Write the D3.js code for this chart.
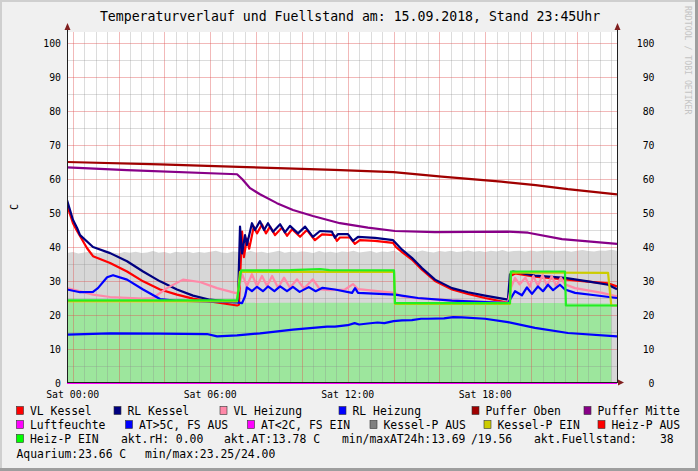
<!DOCTYPE html>
<html><head><meta charset="utf-8">
<script src="https://cdn.jsdelivr.net/npm/d3@7"></script>
<style>body{margin:0;background:#f0f0f0}svg{display:block}</style>
</head><body><svg id="c" width="698" height="471"></svg>
<script>
// ---------- DATA ----------
const title = "Temperaturverlauf und Fuellstand am: 15.09.2018, Stand 23:45Uhr";
const yTicks = [0,10,20,30,40,50,60,70,80,90,100];
const xTickHours = [0,6,12,18];
const xTickLabels = ["Sat 00:00","Sat 06:00","Sat 12:00","Sat 18:00"];
const timeRange = [-0.25, 23.75]; // hours relative to Sat 00:00

// series: [hour, value]
const vlKessel = [[-0.25,52.4],[0.01,47],[0.19,44.7],[0.62,39.7],[0.885,37.3],[1.63,35.3],[2.37,32.8],[3.07,29.9],[3.81,27.5],[4.55,26.0],[5.25,24.8],[5.99,24.0],[7.17,22.8],[7.25,23.0],[7.39,44.5],[7.47,37.0],[7.60,42.5],[7.70,39.5],[7.90,46.0],[8.04,44.0],[8.26,46.6],[8.43,44.0],[8.61,46.0],[8.83,43.5],[9.13,45.7],[9.35,43.3],[9.57,45.2],[9.92,43.0],[10.22,45.0],[10.57,42.0],[10.88,43.7],[11.40,43.5],[11.53,41.8],[11.66,42.8],[12.10,42.8],[12.31,40.9],[12.53,42.0],[13.19,41.8],[13.98,41.2],[14.10,40.0],[14.37,38.5],[14.80,36.3],[15.24,33.3],[15.81,30.0],[16.55,27.5],[17.25,26.2],[17.99,25.0],[18.86,23.8],[19.04,23.6],[19.12,31.5],[19.30,32.2],[20.17,31.3],[21.48,30.5],[22.48,29.8],[23.36,29.3],[23.75,28.4]];
const rlKessel = [[-0.25,53.8],[0.01,48],[0.19,45.6],[0.32,43.5],[0.885,40.0],[1.63,38.2],[2.37,35.8],[3.07,32.8],[3.81,29.9],[4.55,27.5],[5.25,25.7],[5.99,24.5],[7.08,23.8],[7.21,24.0],[7.30,46.0],[7.39,38.1],[7.52,43.5],[7.60,40.6],[7.82,47.0],[7.95,45.0],[8.17,47.6],[8.35,45.0],[8.52,47.0],[8.74,44.5],[9.05,46.7],[9.26,44.3],[9.48,46.2],[9.83,44.0],[10.14,46.0],[10.48,43.0],[10.79,44.7],[11.31,44.5],[11.44,42.7],[11.58,43.8],[12.01,43.8],[12.23,41.8],[12.45,43.0],[13.19,42.7],[13.98,42.0],[14.37,39.2],[14.80,36.8],[15.24,33.8],[15.81,30.4],[16.55,27.9],[17.25,26.7],[17.99,25.7],[18.99,24.5],[19.08,31.9],[19.21,32.8],[20.17,31.6],[21.48,30.9],[22.48,29.9],[23.36,28.9],[23.75,27.6]];
const vlHeizung = [[-0.25,27.9],[0.885,26.0],[1.63,25.3],[3.07,24.8],[3.5,25.0],[4.11,27.9],[4.81,30.4],[5.55,29.7],[6.3,27.9],[7.08,26.5],[7.21,26.6],[7.39,32.0],[7.60,28.5],[7.82,32.0],[8.04,28.5],[8.26,31.5],[8.48,28.5],[8.70,31.5],[8.96,28.0],[9.22,31.0],[9.48,28.0],[9.79,30.5],[10.09,27.8],[10.48,30.5],[10.79,27.5],[11.23,27.3],[11.88,27.5],[12.23,29.1],[12.45,27.6],[14.06,26.5],[14.37,25.5],[15.07,24.9],[16.55,24.3],[18.99,23.6],[19.12,28.0],[19.30,30.9],[19.5,29.0],[19.75,31.0],[19.95,28.3],[20.10,31.5],[20.30,28.5],[20.50,31.8],[20.70,28.5],[20.90,31.5],[21.10,28.5],[21.30,31.0],[21.48,29.0],[21.92,27.9],[23.10,26.5],[23.75,25.5]];
const rlHeizung = [[-0.25,27.5],[0.32,26.7],[0.885,26.8],[1.10,27.9],[1.50,31.1],[1.76,31.7],[2.37,30.4],[3.07,27.5],[3.81,24.7],[4.55,24.2],[5.99,23.9],[7.08,23.8],[7.39,23.5],[7.52,25.5],[7.60,28.1],[7.82,27.0],[8.04,28.3],[8.3,27.0],[8.52,28.4],[8.8,27.0],[9.05,28.4],[9.35,27.0],[9.61,28.3],[9.9,26.8],[10.3,28.2],[10.6,27.0],[10.9,28.0],[11.44,27.5],[12.19,26.5],[12.32,27.9],[12.45,26.5],[14.06,26.0],[15.07,25.0],[16.55,24.2],[18.99,23.5],[19.30,27.0],[19.60,25.8],[19.82,28.1],[20.04,26.2],[20.30,28.4],[20.52,27.0],[20.74,28.9],[20.96,27.3],[21.26,28.9],[21.48,27.5],[21.92,26.5],[22.79,25.8],[23.75,25.0]];
const pufferOben = [[-0.25,65.0],[3.8,64.3],[7.6,63.5],[11.4,62.7],[14.0,62.0],[16.1,60.7],[18.7,59.2],[20.2,58.2],[21.6,57.0],[23.75,55.5]];
const pufferMitte = [[-0.25,63.4],[2.37,62.6],[7.17,61.4],[7.39,60.0],[7.74,57.3],[8.17,55.5],[8.91,52.9],[9.61,50.9],[10.48,49.1],[11.66,47.0],[12.88,45.7],[14.06,44.7],[15.81,44.4],[18.99,44.5],[19.87,44.2],[21.35,42.3],[23.75,40.9]];
const luftfeuchte = [[-0.25,0],[23.75,0]];
const aussenTemp = [[-0.25,14.2],[1.63,14.6],[3.81,14.5],[5.86,14.4],[6.3,13.7],[7.17,14.0],[8.17,14.6],[9.61,15.7],[11.1,16.6],[11.44,16.6],[12.0,17.0],[12.3,17.6],[12.5,17.2],[12.88,17.5],[13.3,17.8],[13.6,17.6],[14.0,18.2],[14.37,18.4],[14.8,18.5],[15.2,18.9],[15.5,18.9],[16.2,19.0],[16.6,19.4],[16.99,19.3],[17.99,18.9],[18.99,17.9],[20.17,16.2],[21.61,14.7],[23.75,13.7]];
const kesselPEin = [[-0.25,24.0],[7.17,24.0],[7.30,32.7],[14.02,32.7],[14.06,23.3],[19.08,23.3],[19.12,32.5],[23.36,32.4],[23.50,22.8],[23.75,22.8]];
const heizPEin = [[-0.25,24.3],[7.17,24.3],[7.35,33.1],[9.5,33.2],[10.8,33.5],[11.2,33.2],[14.02,33.1],[14.06,23.5],[19.08,23.5],[19.12,32.8],[21.48,32.8],[21.52,22.8],[23.75,22.8]];
const aquarium = [[-0.25,23.6],[3,23.5],[6,23.5],[9,23.6],[12,23.6],[15,23.6],[18,23.5],[21,23.5],[23.5,23.4]];
const fuellStart = -0.25, fuellStep = 0.25;
const fuellstand = [38.2,38.5,38.1,38.4,38.6,38.2,38.3,38.7,38.4,38.1,
38.5,38.3,38.6,38.2,38.4,38.8,38.3,38.5,38.1,38.6,
38.4,38.7,38.2,38.5,38.3,38.6,38.9,38.4,38.2,38.7,
38.5,38.3,38.8,38.4,38.6,38.2,38.5,38.9,38.3,38.6,
38.4,38.7,38.5,38.2,38.8,38.4,38.6,38.3,38.7,38.5,
38.9,38.4,38.6,38.8,38.3,38.7,38.5,38.9,38.4,38.6,
38.8,38.5,39.0,38.6,38.4,38.8,38.6,38.9,38.5,38.7,
39.0,38.6,38.8,38.5,38.9,38.7,39.1,38.6,38.8,38.9,
38.6,39.0,38.7,38.9,39.1,38.7,38.8,39.0,38.6,38.9,
39.1,38.8,38.7,39.0,38.9,39.2,38.9];

const legendLabels = ["VL Kessel","RL Kessel","VL Heizung","RL Heizung","Puffer Oben","Puffer Mitte","Luftfeuchte","AT>5C, FS AUS","AT<2C, FS EIN","Kessel-P AUS","Kessel-P EIN","Heiz-P AUS","Heiz-P EIN"];
const legendColors = ["#ff0000","#000080","#ff88a8","#0000ff","#a00000","#880088","#ff00ff","#0000ff","#ff00ff","#808080","#cccc00","#ff0000","#00ff00"];
const infoTexts = ["akt.rH: 0.00","akt.AT:13.78 C","min/maxAT24h:13.69","/19.56","akt.Fuellstand:","38","Aquarium:23.66 C","min/max:23.25/24.00"];

// ---------- LAYOUT ----------
const W=698,H=471, L=67, R=617, T=32, B=383;
const legendX = [16.5,114,220,339,472,584, 16.5,125.5,247.5,370,484,598, 16.5];
const legendRow = [0,0,0,0,0,0,1,1,1,1,1,1,2];
const infoX = [121,224,342,471,534,660,16.5,145];
const infoRow = [2,2,2,2,2,2,3,3];
const rowBase = [415,429,443,457.5];
const mono = "DejaVu Sans Mono, monospace";

const svg = d3.select("#c");
const x = d3.scaleLinear().domain(timeRange).range([L,R]);
const y = d3.scaleLinear().domain([0,100]).range([B,43]);

// background + shading
svg.append("rect").attr("width",W).attr("height",H).attr("fill","#f0f0f0");
svg.append("rect").attr("x",0).attr("y",0).attr("width",W).attr("height",2).attr("fill","#cfcfcf");
svg.append("rect").attr("x",0).attr("y",0).attr("width",2).attr("height",H).attr("fill","#cfcfcf");
svg.append("rect").attr("x",W-3).attr("y",0).attr("width",3).attr("height",H).attr("fill","#9e9e9e");
svg.append("rect").attr("x",0).attr("y",H-3).attr("width",W).attr("height",3).attr("fill","#9e9e9e");
svg.append("rect").attr("x",L).attr("y",T).attr("width",R-L).attr("height",B-T).attr("fill","#ffffff");

const defs = svg.append("defs");
defs.append("clipPath").attr("id","clip").append("rect").attr("x",L).attr("y",T).attr("width",R-L).attr("height",B-T+2);
const plot = svg.append("g").attr("clip-path","url(#clip)");

// areas
const fuellData = fuellstand.map((v,i)=>[fuellStart+i*fuellStep, v]);
const area = d3.area().x(d=>x(d[0])).y0(y(0)).y1(d=>y(d[1]));
plot.append("path").datum(fuellData).attr("d",area).attr("fill","#d7d7d7");
plot.append("path").datum(aquarium).attr("d",area).attr("fill","#9de69d");

// grid
const minorX = d3.range(-0.0, 23.76, 0.5).filter(h=>h%2!==0);
const majorX = d3.range(0, 23.76, 2);
const g = svg.append("g");
minorX.forEach(h=>g.append("line").attr("x1",Math.round(x(h))+0.5).attr("x2",Math.round(x(h))+0.5).attr("y1",T).attr("y2",B).attr("stroke","rgba(140,140,140,0.3)"));
d3.range(5,103,10).forEach(v=>g.append("line").attr("x1",L).attr("x2",R).attr("y1",Math.round(y(v))+0.5).attr("y2",Math.round(y(v))+0.5).attr("stroke","rgba(140,140,140,0.3)"));
majorX.forEach(h=>g.append("line").attr("x1",Math.round(x(h))+0.5).attr("x2",Math.round(x(h))+0.5).attr("y1",T).attr("y2",B).attr("stroke","rgba(222,79,79,0.4)"));
yTicks.filter(v=>v>0).forEach(v=>g.append("line").attr("x1",L).attr("x2",R).attr("y1",Math.round(y(v))+0.5).attr("y2",Math.round(y(v))+0.5).attr("stroke","rgba(222,79,79,0.4)"));

// lines
const line = d3.line().x(d=>x(d[0])).y(d=>y(d[1]));
const lp = svg.append("g").attr("clip-path","url(#clip)");
const series = [
  [vlKessel,"#ff0000"],[rlKessel,"#000080"],[vlHeizung,"#ff88a8"],[rlHeizung,"#0000ff"],
  [pufferOben,"#a00000"],[pufferMitte,"#880088"],[luftfeuchte,"#ff00ff"],[aussenTemp,"#0000ff"],
  [kesselPEin,"#cccc00"],[heizPEin,"#22ee22"]
];
series.forEach(([d,c])=>lp.append("path").datum(d).attr("d",line).attr("fill","none").attr("stroke",c).attr("stroke-width",2.2).attr("stroke-linejoin","round"));

// axes
const axc = "#1f1f1f", arc = "#801f1f";
svg.append("line").attr("x1",L+0.5).attr("x2",L+0.5).attr("y1",B).attr("y2",T-4).attr("stroke",axc);
svg.append("line").attr("x1",R+0.5).attr("x2",R+0.5).attr("y1",B).attr("y2",T-4).attr("stroke",axc);
svg.append("line").attr("x1",L).attr("x2",R+4).attr("y1",B-0.5).attr("y2",B-0.5).attr("stroke",axc);
[L+0.5,R+0.5].forEach(px=>svg.append("path").attr("d",`M${px-3},${T-2}L${px},${T-9}L${px+3},${T-2}Z`).attr("fill",arc));
svg.append("path").attr("d",`M${R+1},${B-3.5}L${R+7},${B-0.5}L${R+1},${B+2.5}Z`).attr("fill",arc);

// y tick labels (left & right)
yTicks.forEach(v=>{
  svg.append("text").attr("x",61).attr("y",y(v)+3.5).attr("text-anchor","end").attr("font-family",mono).attr("font-size",9.8).attr("fill","#000").text(v);
  svg.append("text").attr("x",654.5).attr("y",y(v)+3.5).attr("text-anchor","end").attr("font-family",mono).attr("font-size",9.8).attr("fill","#000").text(v);
});
xTickHours.forEach((h,i)=>svg.append("text").attr("x",x(h)).attr("y",398).attr("text-anchor","middle").attr("font-family",mono).attr("font-size",9.8).attr("fill","#000").text(xTickLabels[i]));

// y axis title
svg.append("text").attr("transform","translate(17.5,207) rotate(-90)").attr("text-anchor","middle").attr("font-family",mono).attr("font-size",10).attr("fill","#000").text("C");

// title
svg.append("text").attr("x",350).attr("y",21).attr("text-anchor","middle").attr("font-family",mono).attr("font-size",13.2).attr("fill","#000").text(title);

// watermark
svg.append("text").attr("transform","translate(685,6) rotate(90)").attr("font-family",mono).attr("font-size",8.2).attr("fill","#c4c4c4").text("RRDTOOL / TOBI OETIKER");

// legend
legendLabels.forEach((t,i)=>{
  const bx = legendX[i], by = rowBase[legendRow[i]];
  svg.append("rect").attr("x",bx).attr("y",by-8.5).attr("width",7).attr("height",8).attr("fill",legendColors[i]).attr("stroke","#333").attr("stroke-width",0.6);
  svg.append("text").attr("x",bx+13.5).attr("y",by).attr("font-family",mono).attr("font-size",11.4).attr("fill","#000").text(t);
});
infoTexts.forEach((t,i)=>svg.append("text").attr("x",infoX[i]).attr("y",rowBase[infoRow[i]]).attr("font-family",mono).attr("font-size",11.4).attr("fill","#000").attr("xml:space","preserve").text(t));
</script></body></html>
